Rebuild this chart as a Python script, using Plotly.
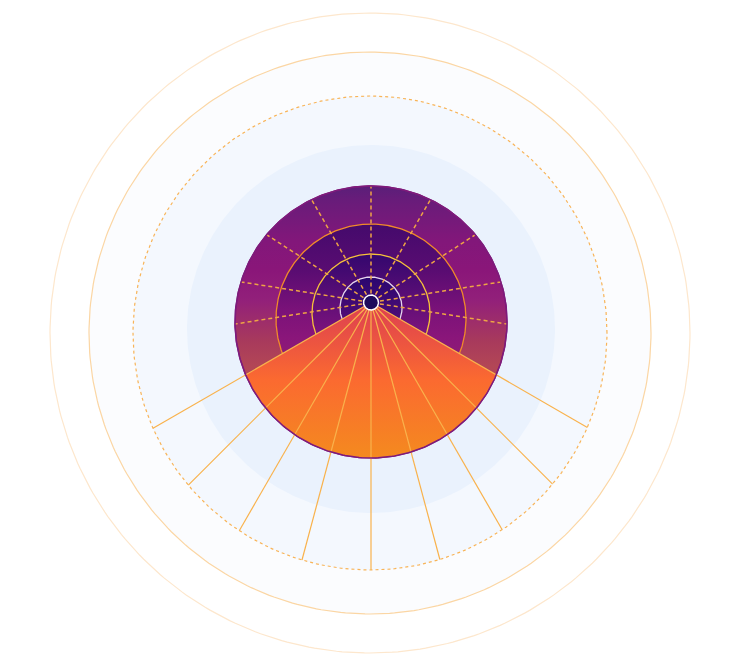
import numpy as np
import plotly.graph_objects as go

# ---- geometry parameters (units ~ px, origin at the hub, y up) ----
backdrop_radius = [320, 281, 237, 184]
backdrop_cx = [-1, -1, -1, 0]
backdrop_cy = [-30.5, -30.5, -30.5, -26.5]
backdrop_fill = ["rgba(0,0,0,0)", "#fbfcfe", "#f4f8fe", "#eaf2fd"]
backdrop_line = ["#fde7cd", "#fbd6a4", "#f8b458", "rgba(0,0,0,0)"]
backdrop_dash = ["solid", "solid", "3px,3px", "solid"]

disc_radius = [136, 95, 59, 31]
disc_cy = [-19.5, -16.5, -10.5, -5.5]
disc_line = ["#7e1b7b", "#f08a2a", "#f6c23a", "#e6d6ee"]
disc_colors = [
    [[0.0, "#bc4c52"], [0.34, "#b24656"], [0.43, "#a83a5c"], [0.58, "#92207a"],
     [0.69, "#8a1679"], [0.8, "#82177a"], [0.95, "#681c7a"], [1.0, "#5a1f79"]],
    [[0.0, "#9a2a68"], [0.4, "#8a167a"], [0.55, "#7a1279"], [0.75, "#5a0c72"], [1.0, "#440a6c"]],
    [[0.0, "#8a1a76"], [0.35, "#7a137c"], [1.0, "#33076e"]],
    [[0.0, "#62107a"], [1.0, "#29066f"]],
]
hub_radius = 7.5

fan_colors = [[0.0, "#f48a1f"], [0.5, "#fb6a30"], [1.0, "#dc3e52"]]

lower_spoke_deg = [-30, -45, -60, -75, -90, -105, -120, -135, -150]
upper_spoke_deg = [-9, 9, 33, 60, 90, 120, 147, 171, 189]


def circle(cx, cy, r, n=361):
    t = np.linspace(0, 2 * np.pi, n)
    return cx + r * np.cos(t), cy + r * np.sin(t)


def ray_hit(theta_deg, cx, cy, r):
    th = np.radians(theta_deg)
    d = np.array([np.cos(th), np.sin(th)])
    c = np.array([cx, cy])
    b = d @ c
    t = b + np.sqrt(b * b - c @ c + r * r)
    return d * t


fig = go.Figure()

# backdrop rings
for r, cx, cy, fc, lc, ds in zip(backdrop_radius, backdrop_cx, backdrop_cy,
                                  backdrop_fill, backdrop_line, backdrop_dash):
    x, y = circle(cx, cy, r)
    fig.add_trace(go.Scatter(x=x, y=y, mode="lines", fill="toself", fillcolor=fc,
                             line=dict(color=lc, width=1.2, dash=ds),
                             hoverinfo="skip", showlegend=False))

# gradient discs
for r, cy, lc, cs in zip(disc_radius, disc_cy, disc_line, disc_colors):
    x, y = circle(0, cy, r)
    fig.add_trace(go.Scatter(x=x, y=y, mode="lines", fill="toself",
                             fillgradient=dict(type="vertical", colorscale=cs,
                                               start=cy - r, stop=cy + r),
                             line=dict(color=lc, width=1.3),
                             hoverinfo="skip", showlegend=False))

# dashed upper spokes
R0, CY0 = disc_radius[0], disc_cy[0]
for a in upper_spoke_deg:
    p = ray_hit(a, 0, CY0, R0)
    th = np.radians(a)
    s = np.array([np.cos(th), np.sin(th)]) * (hub_radius + 1.5)
    fig.add_trace(go.Scatter(x=[s[0], p[0]], y=[s[1], p[1]], mode="lines",
                             line=dict(color="#eea445", width=1.5, dash="4px,3px"),
                             hoverinfo="skip", showlegend=False))

# fan (lower wedge)
p1 = ray_hit(lower_spoke_deg[0], 0, CY0, R0)
p2 = ray_hit(lower_spoke_deg[-1], 0, CY0, R0)
f1 = np.arctan2(p1[1] - CY0, p1[0])
f2 = np.arctan2(p2[1] - CY0, p2[0])
phi = np.linspace(f1, f2, 200)
fx = np.concatenate([[0], R0 * np.cos(phi), [0]])
fy = np.concatenate([[0], CY0 + R0 * np.sin(phi), [0]])
fig.add_trace(go.Scatter(x=fx, y=fy, mode="lines", fill="toself",
                         fillgradient=dict(type="vertical", colorscale=fan_colors,
                                           start=CY0 - R0, stop=0),
                         line=dict(width=0, color="rgba(0,0,0,0)"),
                         hoverinfo="skip", showlegend=False))

# lower spokes to the dotted ring
for a in lower_spoke_deg:
    p = ray_hit(a, backdrop_cx[2], backdrop_cy[2], backdrop_radius[2])
    fig.add_trace(go.Scatter(x=[0, p[0]], y=[0, p[1]], mode="lines",
                             line=dict(color="#f9b24c", width=1.2),
                             hoverinfo="skip", showlegend=False))

# disc outline on top
x, y = circle(0, CY0, R0)
fig.add_trace(go.Scatter(x=x, y=y, mode="lines", line=dict(color=disc_line[0], width=1.5),
                         hoverinfo="skip", showlegend=False))

# hub
x, y = circle(0, 0, hub_radius)
fig.add_trace(go.Scatter(x=x, y=y, mode="lines", fill="toself", fillcolor="#1e0b5c",
                         line=dict(color="#ffffff", width=1.5),
                         hoverinfo="skip", showlegend=False))

fig.update_layout(
    width=740, height=669,
    margin=dict(l=0, r=0, t=0, b=0),
    paper_bgcolor="white", plot_bgcolor="white",
    xaxis=dict(range=[-371, 369], visible=False, fixedrange=True),
    yaxis=dict(range=[-366.5, 302.5], visible=False, fixedrange=True),
    showlegend=False,
)
fig.write_html("out.html")
